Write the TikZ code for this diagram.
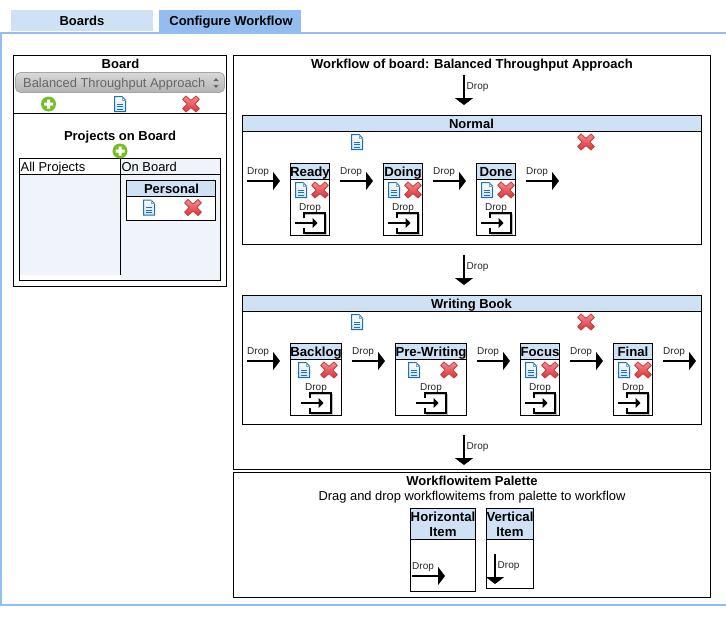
\documentclass[tikz,border=0pt]{standalone}
\usepackage{fontspec}
\setmainfont{Liberation Sans}
\usetikzlibrary{arrows.meta}
\definecolor{hdr}{HTML}{CFE2F5}
\definecolor{tabon}{HTML}{92BDEE}
\definecolor{pane}{HTML}{F0F3FA}
\definecolor{docblue}{HTML}{1B72B8}
\definecolor{xred}{HTML}{EE5A60}
\definecolor{xlow}{HTML}{DE3038}
\definecolor{xdark}{HTML}{C04040}
\definecolor{pgreen}{HTML}{76BE26}
\tikzset{
  ttl/.style={font=\bfseries\fontsize{13}{15}\selectfont,inner sep=0pt,text=black,text height=12.2pt,text depth=2.6pt},
  big/.style={font=\bfseries\fontsize{13.2}{15}\selectfont,inner sep=0pt,text=black,text height=12.2pt,text depth=2.6pt},
  bigm/.style={font=\bfseries\fontsize{13.2}{15}\selectfont,inner sep=0pt,text=black,align=center},
  plain/.style={font=\fontsize{12.9}{15}\selectfont,inner sep=0pt,text=black,text height=12.2pt,text depth=2.6pt},
  droplbl/.style={font=\fontsize{10}{12}\selectfont,inner sep=0pt,text=black!85,text height=8.5pt,text depth=2pt},
  frame/.style={draw=black,line width=1pt,fill=white},
  head/.style={draw=black,line width=1pt,fill=hdr},
  flow/.style={draw=black,line width=2.5pt,-{Triangle[length=7pt,width=18pt]}},
  entry/.style={draw=black,line width=1.5pt,-{Triangle[length=5pt,width=10pt]}},
}
% document icon
\newcommand{\docicon}[3]{\begin{scope}[shift={(#2,#3)}]
  \coordinate (#1) at (0,0);
  \draw[docblue,line width=1pt,top color=white,bottom color=hdr]
    (-5.5,-7.5) -- (2,-7.5) -- (5.5,-4) -- (5.5,7.5) -- (-5.5,7.5) -- cycle;
  \draw[docblue!60,line width=.7pt] (2,-7.5) -- (2,-4) -- (5.5,-4);
  \draw[docblue,line width=1pt] (-3,0) -- (3,0) (-3,2.5) -- (3,2.5) (-3,5) -- (3,5);
\end{scope}}
% delete icon
\newcommand{\xicon}[3]{\begin{scope}[shift={(#2,#3)}]
  \coordinate (#1) at (0,0);
  \draw[xdark,line width=.8pt,top color=xred!70!white,bottom color=xlow,line join=round]
    (-5,-8) -- (0,-3.6) -- (5,-8) -- (8.4,-4.6) -- (3.8,0) -- (8.4,4.6) -- (5,8) -- (0,3.6)
    -- (-5,8) -- (-8.4,4.6) -- (-3.8,0) -- (-8.4,-4.6) -- cycle;
\end{scope}}
% add icon
\newcommand{\plusicon}[3]{\begin{scope}[shift={(#2,#3)}]
  \fill[pgreen] (0,0) circle (7.5) coordinate (#1);
  \fill[white] (-4.5,-1.5) rectangle (4.5,1.5) (-1.5,-4.5) rectangle (1.5,4.5);
\end{scope}}
% horizontal drop arrow: name, left x, y
\newcommand{\hdrop}[3]{
  \coordinate (#1s) at (#2,#3);
  \coordinate (#1e) at ({#2+33},#3);
  \draw[flow] (#1s) -- (#1e);
  \node[droplbl,anchor=west] (#1l) at (#2,{#3-10}) {Drop};
}
% vertical drop arrow: name, x, top y
\newcommand{\vdrop}[3]{
  \coordinate (#1s) at (#2,#3);
  \coordinate (#1e) at (#2,{#3+30});
  \draw[flow] (#1s) -- (#1e);
  \node[droplbl,anchor=west] (#1l) at ({#2+2.5},{#3+11}) {Drop};
}
% workflow item: name, left, right, top, title, doc x, x x, centre x for drop
\newcommand{\wfitem}[8]{
  \draw[frame] (#2,#4) rectangle (#3,{#4+72});
  \draw[head] (#2,#4) rectangle (#3,{#4+15.5});
  \node[big] (#1t) at ({(#2+#3)/2},{#4+8}) {#5};
  \docicon{#1d}{#6}{#4+26.5}
  \xicon{#1x}{#7}{#4+26.5}
  \node[droplbl] (#1l) at (#8,{#4+43.5}) {Drop};
  \draw[black!25,line width=1pt] ({#8-5},{#4+50.5}) -- ({#8+16},{#4+50.5}) -- ({#8+16},{#4+70.5}) -- ({#8-5},{#4+70.5});
  \draw[black,line width=1.2pt] ({#8-6},{#4+54.5}) -- ({#8-6},{#4+49.5}) -- ({#8+15},{#4+49.5})
     -- ({#8+15},{#4+69.5}) -- ({#8-6},{#4+69.5}) -- ({#8-6},{#4+64.5});
  \coordinate (#1a) at ({#8-15},{#4+59.5});
  \coordinate (#1b) at ({#8+7.5},{#4+59.5});
  \draw[entry] (#1a) -- (#1b);
}
\begin{document}
\begin{tikzpicture}[x=1pt,y=-1pt]
\useasboundingbox (0,0) rectangle (726,624);
\fill[white] (0,0) rectangle (726,624);
% tabs and outer panel
\fill[hdr] (11,10) rectangle (153,31);
\fill[tabon] (159,10) rectangle (301,32);
\node[ttl] (tab1) at (82,20.5) {Boards};
\node[ttl] (tab2) at (231,20.5) {Configure Workflow};
\draw[tabon,line width=2.4pt] (1,33) rectangle (727,605);
% board panel
\draw[frame] (13.5,55.5) rectangle (226,286);
\node[ttl] (boardt) at (120.5,63.5) {Board};
\draw[black!35,line width=.8pt,rounded corners=5pt,top color=black!15,bottom color=black!30] (15.5,72.5) rectangle (224.5,92.5);
\node[plain,text=black!60,anchor=west] (boardsel) at (23,82.5) {Balanced Throughput Approach};
\fill[black!60] (213.5,81) -- (218.5,81) -- (216,78) -- cycle (213.5,85) -- (218.5,85) -- (216,88) -- cycle;
\plusicon{bpl}{48.5}{104}
\docicon{bdoc}{120}{104}
\xicon{bx}{191}{104}
\draw[black,line width=1pt] (13.5,113.5) -- (226,113.5);
\node[ttl] (pob) at (120,135.5) {Projects on Board};
% project table
\fill[pane] (20,175) rectangle (120,275);
\fill[pane] (121,159) rectangle (220,280);
\draw[black,line width=1pt] (19.5,158.5) rectangle (220.5,280.5);
\draw[black,line width=1pt] (19.5,174.5) -- (220.5,174.5);
\draw[black,line width=1pt] (120.5,158.5) -- (120.5,275);
\plusicon{ppl}{120}{151}
\node[plain,anchor=west] (allp) at (20.5,166.5) {All Projects};
\node[plain,anchor=west] (onb) at (121.5,166.5) {On Board};
\draw[frame] (126.5,180.5) rectangle (215.5,220.5);
\draw[head] (126.5,180.5) rectangle (215.5,196.5);
\node[ttl] (pers) at (171.5,188.5) {Personal};
\docicon{pdoc}{149}{207.5}
\xicon{px}{193}{207.5}
% workflow panel
\draw[frame] (233.5,55.5) rectangle (710,469.5);
\node[ttl] (wft) at (472,63.5) {Workflow of board: Balanced Throughput Approach};
\vdrop{v1}{464}{75}
% Normal
\draw[frame] (242.5,115.5) rectangle (701,244.5);
\draw[head] (242.5,115.5) rectangle (701,131.5);
\node[ttl] (nt) at (471.5,123.5) {Normal};
\docicon{ndoc}{357}{142}
\xicon{nx}{586}{142}
\hdrop{n1}{247}{181}
\hdrop{n2}{340}{181}
\hdrop{n3}{433}{181}
\hdrop{n4}{526}{181}
\wfitem{rd}{290.5}{329.5}{163.5}{Ready}{301}{320}{310}
\wfitem{dg}{383.5}{422.5}{163.5}{Doing}{394}{413}{403}
\wfitem{dn}{476.5}{515.5}{163.5}{Done}{487}{506}{496}
\vdrop{v2}{464}{255}
% Writing Book
\draw[frame] (242.5,295.5) rectangle (701,424.5);
\draw[head] (242.5,295.5) rectangle (701,311.5);
\node[ttl] (wbt) at (471.5,303.5) {Writing Book};
\docicon{wdoc}{357}{322}
\xicon{wx}{586}{322}
\hdrop{w1}{247}{361}
\hdrop{w2}{352}{361}
\hdrop{w3}{477}{361}
\hdrop{w4}{570}{361}
\hdrop{w5}{663}{361}
\wfitem{bl}{290.5}{341.5}{343.5}{Backlog}{304}{329}{316}
\wfitem{pw}{395.5}{466.5}{343.5}{Pre-Writing}{414}{449}{431}
\wfitem{fc}{520.5}{559.5}{343.5}{Focus}{531}{550}{540}
\wfitem{fn}{613.5}{652.5}{343.5}{Final}{624}{643}{633}
\vdrop{v3}{464}{435}
% palette
\draw[frame] (233.5,472.5) rectangle (710,597.5);
\node[ttl] (palt) at (472,480.5) {Workflowitem Palette};
\node[plain] (pals) at (472,495.5) {Drag and drop workflowitems from palette to workflow};
\draw[frame] (410.5,508.5) rectangle (475.5,591.5);
\draw[head] (410.5,508.5) rectangle (475.5,539.5);
\node[bigm] (hit) at (443,524) {Horizontal\\Item};
\hdrop{ph}{412}{576}
\draw[frame] (486.5,508.5) rectangle (533.5,588.5);
\draw[head] (486.5,508.5) rectangle (533.5,539.5);
\node[bigm] (vit) at (510,524) {Vertical\\Item};
\vdrop{pv}{495}{554}
\end{tikzpicture}
\end{document}
